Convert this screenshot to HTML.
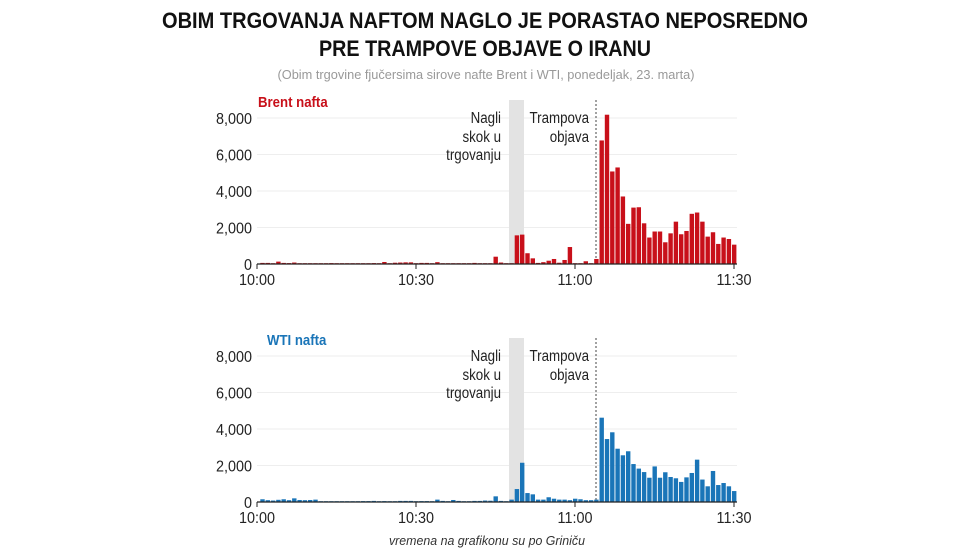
<!DOCTYPE html>
<html><head><meta charset="utf-8"><style>
html,body{margin:0;padding:0;background:#fff;width:970px;height:550px;overflow:hidden}
svg{display:block;font-family:"Liberation Sans",sans-serif}
</style></head><body>
<svg id="s" width="970" height="550" viewBox="0 0 970 550" xmlns="http://www.w3.org/2000/svg">
<text x="485" y="28" text-anchor="middle" font-size="22" font-weight="bold" fill="#111" textLength="646" lengthAdjust="spacingAndGlyphs">OBIM TRGOVANJA NAFTOM NAGLO JE PORASTAO NEPOSREDNO</text>
<text x="485" y="56" text-anchor="middle" font-size="22" font-weight="bold" fill="#111" textLength="332" lengthAdjust="spacingAndGlyphs">PRE TRAMPOVE OBJAVE O IRANU</text>
<text x="486" y="79" text-anchor="middle" font-size="13" fill="#999" textLength="417" lengthAdjust="spacingAndGlyphs">(Obim trgovine fjučersima sirove nafte Brent i WTI, ponedeljak, 23. marta)</text>
<text x="487" y="545" text-anchor="middle" font-size="13" font-style="italic" fill="#333" textLength="196" lengthAdjust="spacingAndGlyphs">vremena na grafikonu su po Griniču</text>
<g id="g"></g>
</svg>
<script>
var NS="http://www.w3.org/2000/svg",g=document.getElementById("g");
function el(t,a,txt,f){var e=document.createElementNS(NS,t);for(var k in a)e.setAttribute(k,a[k]);if(txt!==undefined)e.textContent=txt;g.appendChild(e);
 if(txt!==undefined){var L=e.getComputedTextLength();e.setAttribute("textLength",L*(f||0.86));e.setAttribute("lengthAdjust","spacingAndGlyphs");}
 return e;}
var brent=[60,60,30,130,60,50,80,20,20,0,20,0,0,50,20,0,0,20,0,0,30,50,0,110,0,70,80,90,90,0,60,60,0,100,0,30,0,0,30,0,60,40,0,0,400,80,40,40,1570,1610,590,310,60,100,180,275,70,220,930,30,0,150,30,275,
6770,8180,5070,5290,3700,2200,3090,3110,2230,1450,1780,1780,1190,1680,2320,1630,1810,2750,2820,2320,1500,1740,1100,1450,1370,1060];
var wti=[150,100,80,120,150,100,200,110,100,110,130,40,40,20,40,20,20,20,20,50,50,60,30,50,40,40,60,60,60,40,50,50,40,130,60,40,110,60,30,30,60,60,80,70,310,60,40,130,710,2150,490,420,130,130,260,180,130,130,100,180,150,100,100,130,
4620,3450,3820,2920,2560,2780,2080,1830,1640,1330,1950,1330,1630,1370,1300,1100,1350,1590,2320,1230,860,1700,930,1040,860,600];
function chart(off,data,col,name,nx){
 var base=264+off,sc=146/8000,x0=260,pw=5.3;
 for(var v=0;v<=8000;v+=2000){var y=base-v*sc;
  if(v>0)el("line",{x1:257,x2:737,y1:y,y2:y,stroke:"#eee","stroke-width":1});
  el("text",{x:252,y:y+6,"text-anchor":"end","font-size":16,fill:"#222"},v?v.toLocaleString("en-US"):"0",0.9);}
 el("rect",{x:509,y:100+off,width:15,height:164,fill:"#e3e3e3"});
 el("line",{x1:596,x2:596,y1:100+off,y2:base,stroke:"#444","stroke-width":1,"stroke-dasharray":"2,2"});
 for(var i=0;i<data.length;i++){var h=Math.max(data[i]*sc,0.8);
  el("rect",{x:x0+pw*i+0.3,y:base-h,width:4.4,height:h,fill:col});}
 el("line",{x1:257,x2:737,y1:base,y2:base,stroke:"#222","stroke-width":1.2});
 var labs=["10:00","10:30","11:00","11:30"];
 for(var j=0;j<4;j++){var x=257+159*j;
  el("line",{x1:x,x2:x,y1:base,y2:base+5,stroke:"#222"});
  el("text",{x:x,y:base+21,"text-anchor":"middle","font-size":16,fill:"#222"},labs[j],0.9);}
 el("text",{x:nx,y:off+107,"font-size":15,"font-weight":"bold",fill:col},name,0.88);
 var a=[["Nagli",118],["skok u",137],["trgovanju",155]];
 a.forEach(function(t){el("text",{x:501,y:t[1]+off+5,"text-anchor":"end","font-size":15.5,fill:"#222"},t[0]);});
 el("text",{x:589,y:123+off,"text-anchor":"end","font-size":15.5,fill:"#222"},"Trampova");
 el("text",{x:589,y:142+off,"text-anchor":"end","font-size":15.5,fill:"#222"},"objava");
}
chart(0,brent,"#c8101a","Brent nafta",258);
chart(238,wti,"#1a75b8","WTI nafta",267);
</script>
</body></html>
